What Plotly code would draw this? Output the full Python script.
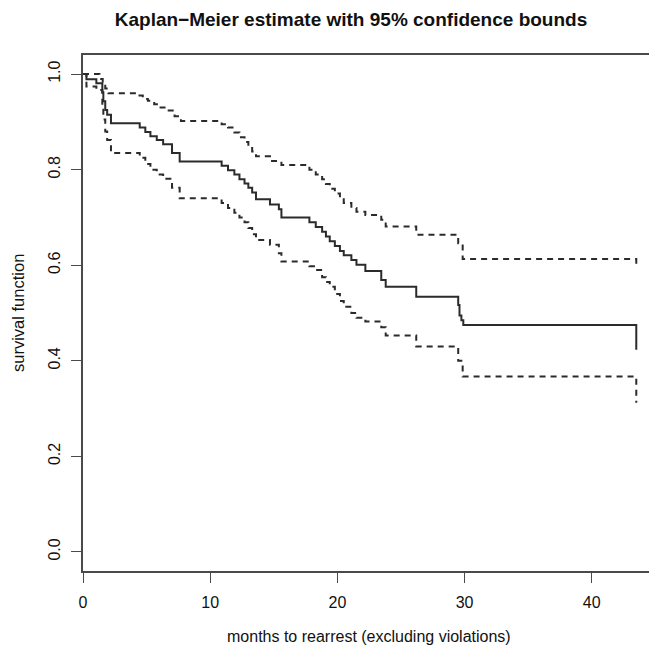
import plotly.graph_objects as go

# Kaplan-Meier estimate (solid)
km_t = [0, 0.27, 1.05, 1.52, 1.6, 1.75, 1.9, 2.2, 4.46, 4.9, 5.3, 5.8, 6.3, 7.0, 7.6,
        10.9, 11.4, 11.9, 12.3, 12.7, 13.0, 13.3, 13.6, 14.7, 15.4, 15.6,
        17.8, 18.3, 18.8, 19.1, 19.4, 19.8, 20.2, 20.5, 21.1, 21.5, 22.2,
        23.45, 23.8, 26.2, 29.5, 29.6, 29.75, 29.9, 43.5]
km_s = [1.0, 0.989, 0.981, 0.962, 0.943, 0.925, 0.915, 0.897, 0.888, 0.879, 0.870, 0.862, 0.853, 0.835, 0.817,
        0.808, 0.799, 0.790, 0.780, 0.771, 0.762, 0.752, 0.738, 0.727, 0.717, 0.700,
        0.690, 0.680, 0.670, 0.660, 0.650, 0.640, 0.630, 0.621, 0.611, 0.601, 0.588,
        0.569, 0.555, 0.534, 0.517, 0.495, 0.485, 0.475, 0.423]

# Upper 95% bound (dashed)
up_t = [0, 1.3, 1.55, 1.75, 2.0, 4.3, 4.7, 5.1, 5.6, 6.1, 6.6, 7.2, 7.7,
        10.9, 11.4, 11.9, 12.3, 12.7, 13.0, 13.3, 13.6, 14.7, 15.6,
        17.8, 18.3, 18.8, 19.1, 19.4, 19.8, 20.2, 20.5, 21.1, 21.5, 22.2,
        23.45, 23.8, 26.2, 29.5, 29.85, 43.5]
up_s = [1.0, 0.99, 0.98, 0.97, 0.96, 0.955, 0.948, 0.944, 0.937, 0.930, 0.924, 0.912, 0.902,
        0.895, 0.888, 0.878, 0.868, 0.858, 0.848, 0.838, 0.828, 0.818, 0.810,
        0.800, 0.790, 0.780, 0.770, 0.760, 0.750, 0.740, 0.730, 0.720, 0.712, 0.705,
        0.695, 0.681, 0.664, 0.646, 0.613, 0.597]

# Lower 95% bound (dashed)
lo_t = [0, 0.27, 1.05, 1.52, 1.6, 1.75, 1.9, 2.2, 4.46, 4.9, 5.3, 5.8, 6.3, 7.0, 7.6,
        10.9, 11.4, 11.9, 12.3, 12.7, 13.0, 13.3, 13.6, 14.7, 15.4, 15.6,
        17.8, 18.3, 18.8, 19.1, 19.4, 19.8, 20.2, 20.5, 21.1, 21.5, 22.2,
        23.45, 23.8, 26.2, 29.5, 29.85, 43.5]
lo_s = [1.0, 0.974, 0.967, 0.93, 0.905, 0.88, 0.862, 0.835, 0.825, 0.812, 0.80, 0.79, 0.781, 0.762, 0.740,
        0.730, 0.720, 0.710, 0.700, 0.690, 0.678, 0.665, 0.653, 0.643, 0.625, 0.608,
        0.598, 0.590, 0.575, 0.565, 0.555, 0.540, 0.525, 0.513, 0.500, 0.490, 0.482,
        0.470, 0.453, 0.430, 0.400, 0.367, 0.312]

x_ticks = [0, 10, 20, 30, 40]
y_ticks = [0.0, 0.2, 0.4, 0.6, 0.8, 1.0]
y_tick_labels = ["0.0", "0.2", "0.4", "0.6", "0.8", "1.0"]

title_text = "Kaplan\u2212Meier estimate with 95% confidence bounds"
x_title = "months to rearrest (excluding violations)"
y_title = "survival function"

FONT = "Liberation Sans, Arial, Helvetica, sans-serif"
INK = "#2b2b2b"
AX = "#4a4a4a"

fig = go.Figure()
fig.add_trace(go.Scatter(x=km_t, y=km_s, mode="lines", line_shape="hv",
                         line=dict(color=INK, width=2), name="estimate", showlegend=False))
fig.add_trace(go.Scatter(x=up_t, y=up_s, mode="lines", line_shape="hv",
                         line=dict(color=INK, width=2, dash="6px,5px"), name="upper", showlegend=False))
fig.add_trace(go.Scatter(x=lo_t, y=lo_s, mode="lines", line_shape="hv",
                         line=dict(color=INK, width=2, dash="6px,5px"), name="lower", showlegend=False))

fig.update_layout(
    width=649, height=646,
    margin=dict(l=83, r=0, t=55, b=75),
    paper_bgcolor="white", plot_bgcolor="white",
    font=dict(family=FONT, color="#111", size=16),
    title=dict(text="<b>" + title_text + "</b>", x=351/649, xref="container", xanchor="center",
               y=1 - 19/646, yref="container", yanchor="middle",
               font=dict(family=FONT, size=19, color="#111")),
    showlegend=False,
)
fig.update_xaxes(range=[0, 44.5], tickvals=x_ticks, ticktext=[str(v) for v in x_ticks],
                 showgrid=False, zeroline=False, showline=True, linecolor=AX, linewidth=1.5,
                 mirror=True, ticks="outside", ticklen=10, tickwidth=1.2, tickcolor=AX,
                 ticklabelstandoff=6, tickfont=dict(size=16))
fig.update_yaxes(range=[-0.04, 1.04], tickvals=y_ticks, ticktext=y_tick_labels,
                 showgrid=False, zeroline=False, showline=True, linecolor=AX, linewidth=1.5,
                 mirror=False, ticks="outside", ticklen=10, tickwidth=1.2, tickcolor=AX,
                 tickangle=-90, ticklabelstandoff=5, tickfont=dict(size=16))

fig.add_annotation(text=x_title, xref="paper", yref="paper", x=(369 - 83) / 566, y=(571 - 636) / 516,
                   showarrow=False, xanchor="center", yanchor="middle", font=dict(size=16, color="#111"))
fig.add_annotation(text=y_title, xref="paper", yref="paper", x=(18 - 83) / 566, y=(571 - 313) / 516,
                   showarrow=False, xanchor="center", yanchor="middle", textangle=-90,
                   font=dict(size=16.5, color="#111"))

fig.write_html("out.html", config={"displayModeBar": False},
               post_script="document.body.style.margin='0';document.body.style.overflow='hidden';")
